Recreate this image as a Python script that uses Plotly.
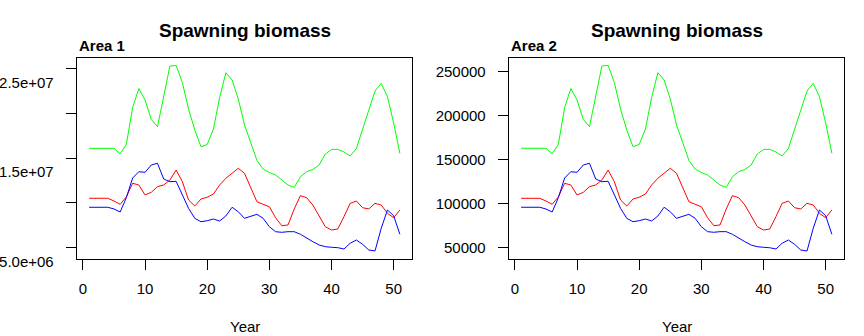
import plotly.graph_objects as go

years = list(range(1, 52))

# Area 1
area1_green = [16.10e6, 16.10e6, 16.10e6, 16.10e6, 16.10e6, 15.46e6, 16.59e6, 20.68e6, 22.81e6, 21.52e6,
               19.33e6, 18.53e6, 21.80e6, 25.33e6, 25.39e6, 23.48e6, 20.51e6, 18.16e6, 16.28e6, 16.53e6,
               18.27e6, 21.80e6, 24.58e6, 23.76e6, 21.63e6, 18.72e6, 16.75e6, 14.74e6, 13.78e6, 13.39e6,
               13.11e6, 12.55e6, 11.99e6, 11.71e6, 12.92e6, 13.48e6, 13.73e6, 14.23e6, 15.46e6, 15.97e6,
               15.99e6, 15.69e6, 15.24e6, 16.08e6, 18.27e6, 20.51e6, 22.53e6, 23.39e6, 21.89e6, 18.94e6,
               15.54e6]
area1_red = [10.50e6, 10.50e6, 10.50e6, 10.50e6, 10.19e6, 9.82e6, 10.68e6, 12.18e6, 11.99e6, 10.87e6,
             11.17e6, 11.80e6, 11.99e6, 12.55e6, 13.67e6, 12.36e6, 10.31e6, 9.63e6, 10.42e6, 10.61e6,
             10.98e6, 11.99e6, 12.74e6, 13.30e6, 13.86e6, 13.30e6, 11.62e6, 10.11e6, 9.82e6, 9.55e6,
             8.32e6, 7.42e6, 7.50e6, 9.30e6, 10.79e6, 10.56e6, 9.74e6, 8.51e6, 7.31e6, 6.94e6,
             7.05e6, 8.43e6, 9.93e6, 10.19e6, 9.44e6, 9.30e6, 9.93e6, 9.74e6, 8.81e6, 8.32e6,
             9.18e6]
area1_blue = [9.49e6, 9.49e6, 9.49e6, 9.49e6, 9.30e6, 8.96e6, 10.59e6, 12.77e6, 13.48e6, 13.41e6,
              14.23e6, 14.42e6, 12.66e6, 12.36e6, 12.40e6, 10.98e6, 9.37e6, 8.25e6, 7.87e6, 7.98e6,
              8.17e6, 7.95e6, 8.51e6, 9.49e6, 8.99e6, 8.25e6, 8.45e6, 8.70e6, 8.25e6, 7.31e6,
              6.75e6, 6.68e6, 6.75e6, 6.75e6, 6.46e6, 6.01e6, 5.63e6, 5.26e6, 5.07e6, 5.00e6,
              4.96e6, 4.81e6, 5.45e6, 5.82e6, 5.34e6, 4.70e6, 4.59e6, 7.13e6, 9.18e6, 8.54e6,
              6.46e6]

# Area 2
area2_green = [162800, 162800, 162800, 162800, 162800, 156300, 167700, 209200, 230900, 217800,
               195600, 187400, 220600, 256500, 257100, 237700, 207500, 183600, 164600, 167100,
               184700, 220600, 248900, 240500, 218900, 189300, 169400, 148900, 139200, 135200,
               132300, 126700, 121000, 118100, 130400, 136100, 138600, 143700, 156300, 161400,
               161600, 158500, 154000, 162500, 184700, 207500, 228000, 236800, 221500, 191600,
               157100]
area2_red = [105800, 105800, 105800, 105800, 102700, 99000, 107600, 122900, 121000, 109600,
             112600, 119000, 121000, 126700, 138000, 124700, 103900, 97000, 105000, 107000,
             110700, 121000, 128600, 134300, 140000, 134300, 117200, 101900, 99000, 96200,
             83700, 74600, 75400, 93600, 108800, 106500, 98200, 85600, 73500, 69700,
             70800, 84900, 100100, 102700, 95100, 93600, 100100, 98200, 88700, 83700,
             92500]
area2_blue = [95600, 95600, 95600, 95600, 93600, 90200, 106700, 128900, 136100, 135400,
              143700, 145700, 127800, 124700, 125200, 110700, 94400, 83000, 79200, 80300,
              82200, 80000, 85600, 95600, 90500, 83000, 85100, 87600, 83000, 73500,
              67800, 67100, 67800, 67800, 64800, 60300, 56400, 52600, 50700, 50000,
              49500, 48100, 54600, 58300, 53400, 46900, 45800, 71600, 92500, 86000,
              64800]

x_ticks = [0, 10, 20, 30, 40, 50]
y1_ticks = [5e6, 10e6, 15e6, 20e6, 25e6]
y1_text = ["5.0e+06", "", "1.5e+07", "", "2.5e+07"]
y2_ticks = [50000, 100000, 150000, 200000, 250000]
y2_text = ["50000", "100000", "150000", "200000", "250000"]

W, H = 864, 336
FONT = "Liberation Sans, Arial, sans-serif"

fig = go.Figure()
for xa, ya, g, r, b in [("x", "y", area1_green, area1_red, area1_blue),
                        ("x2", "y2", area2_green, area2_red, area2_blue)]:
    for vals, col in [(g, "#00FF00"), (r, "#FF0000"), (b, "#0000FF")]:
        fig.add_trace(go.Scatter(x=years, y=vals, mode="lines", xaxis=xa, yaxis=ya,
                                 line=dict(color=col, width=1), showlegend=False,
                                 hoverinfo="skip"))

ydom = [1 - 259.3 / H, 1 - 57.7 / H]
axis_common = dict(showgrid=False, zeroline=False, showline=True, mirror=True,
                   linecolor="black", linewidth=1, ticks="outside", ticklen=10,
                   tickcolor="black", tickwidth=1, automargin=False,
                   tickfont=dict(family=FONT, size=15, color="black"))

fig.update_layout(
    width=W, height=H, margin=dict(l=0, r=0, t=0, b=0, autoexpand=False),
    paper_bgcolor="white", plot_bgcolor="white",
    font=dict(family=FONT, color="black"),
    xaxis=dict(domain=[76.7 / W, 412.3 / W], range=[-1, 53], tickvals=x_ticks,
               anchor="y", ticklabelstandoff=6, **axis_common),
    yaxis=dict(domain=ydom, range=[3.654e6, 26.265e6], tickvals=y1_ticks, ticktext=y1_text,
               anchor="x", ticklabelstandoff=9, ticklabelshift=14, **axis_common),
    xaxis2=dict(domain=[508.7 / W, 844.3 / W], range=[-1, 53], tickvals=x_ticks,
                anchor="y2", ticklabelstandoff=6, **axis_common),
    yaxis2=dict(domain=ydom, range=[36333, 265945], tickvals=y2_ticks, ticktext=y2_text,
                anchor="x2", ticklabelstandoff=9, **axis_common),
)

annots = []
for cx, lx, label in [(244.5, 76.7, "Area 1"), (676.5, 508.7, "Area 2")]:
    annots.append(dict(text="<b>Spawning biomass</b>", x=cx / W, y=1 - 30 / H, xref="paper",
                       yref="paper", xanchor="center", yanchor="middle", showarrow=False,
                       font=dict(family=FONT, size=19, color="black")))
    annots.append(dict(text="<b>" + label + "</b>", x=lx / W, y=1 - 46 / H, xref="paper",
                       yref="paper", xanchor="left", yanchor="middle", showarrow=False,
                       font=dict(family=FONT, size=15, color="black")))
    annots.append(dict(text="Year", x=cx / W, y=1 - 326.5 / H, xref="paper", yref="paper",
                       xanchor="center", yanchor="middle", showarrow=False,
                       font=dict(family=FONT, size=15, color="black")))
fig.update_layout(annotations=annots)

fig.write_html("out.html")
